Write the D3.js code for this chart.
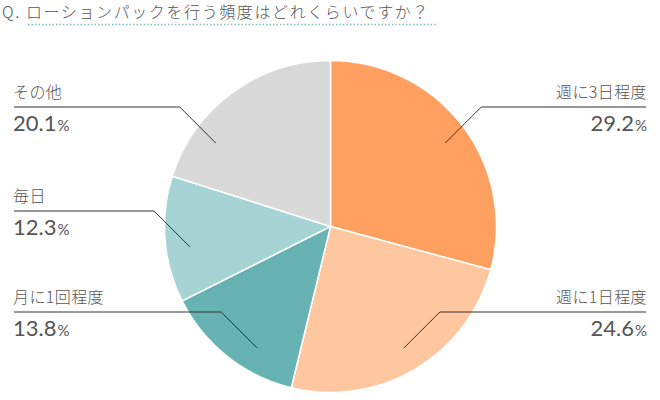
<!DOCTYPE html>
<html>
<head>
<meta charset="utf-8">
<script src="https://cdn.jsdelivr.net/npm/d3@7"></script>
<style>
  body { margin: 0; background: #fff; }
  text { font-family: "Noto Sans CJK JP", "Noto Sans", sans-serif; }
</style>
</head>
<body>
<script>
// data
var categories = ["週に3日程度", "週に1日程度", "月に1回程度", "毎日", "その他"];
var values = [29.2, 24.6, 13.8, 12.3, 20.1];
var colors = ["#ffa061", "#ffc7a0", "#67b2b3", "#a6d3d3", "#d9d9d9"];
var title = "Q. ローションパックを行う頻度はどれくらいですか？";

// label layout (side of chart, y of the leader line)
var labelSide = ["right", "right", "left", "left", "left"];
var labelLineY = [107, 312, 312, 211, 107];

var width = 660, height = 400;
var cx = 330.5, cy = 226.5, radius = 166;

var svg = d3.select("body").append("svg")
            .attr("width", width)
            .attr("height", height);

// title + dotted underline
svg.append("text")
   .attr("x", 2)
   .attr("y", 18)
   .attr("font-size", 16)
   .attr("font-weight", 300)
   .attr("letter-spacing", 1.6)
   .attr("fill", "#555")
   .text(title);

svg.append("line")
   .attr("x1", 28).attr("x2", 437)
   .attr("y1", 24.5).attr("y2", 24.5)
   .attr("stroke", "#7cc3b5")
   .attr("stroke-width", 1.5)
   .attr("stroke-dasharray", "1.5,2");

var pie = d3.pie().sort(null).value(function(d) { return d; });
var arc = d3.arc().innerRadius(0).outerRadius(radius);

var g = svg.append("g").attr("transform", "translate(" + cx + "," + cy + ")");

var arcs = pie(values);

g.selectAll("path")
 .data(arcs)
 .enter()
 .append("path")
 .attr("d", arc)
 .attr("fill", function(d, i) { return colors[i]; })
 .attr("stroke", "#fff")
 .attr("stroke-width", 1.5);

// leader lines + labels
var innerR = radius * 0.855;
var drop = 36;

arcs.forEach(function(d, i) {
  var side = labelSide[i];
  var ly = labelLineY[i];
  var py = ly + drop - cy;
  var px = Math.sqrt(Math.max(innerR * innerR - py * py, 0)) * (side === "right" ? 1 : -1);
  var ex = px + (side === "right" ? drop : -drop);
  var edge = side === "right" ? 646 - cx : 14 - cx;

  g.append("polyline")
   .attr("points", [[px, py], [ex, ly - cy], [edge, ly - cy]].map(function(p) { return p.join(","); }).join(" "))
   .attr("fill", "none")
   .attr("stroke", "#333")
   .attr("stroke-width", 1);

  var anchor = side === "right" ? "end" : "start";
  var tx = side === "right" ? 647 : 13;

  svg.append("text")
     .attr("x", tx)
     .attr("y", ly - 9)
     .attr("text-anchor", anchor)
     .attr("font-size", 16)
     .attr("font-weight", 300)
     .attr("letter-spacing", 0.4)
     .attr("fill", "#555")
     .text(categories[i]);

  var pct = svg.append("text")
     .attr("x", tx)
     .attr("y", ly + 24)
     .attr("text-anchor", anchor)
     .attr("fill", "#555")
     .style("font-family", "Lato, 'Noto Sans', sans-serif");
  pct.append("tspan").attr("font-size", 22).text(values[i].toFixed(1));
  pct.append("tspan").attr("font-size", 15).attr("dx", 1).text("%");
});
</script>
</body>
</html>
